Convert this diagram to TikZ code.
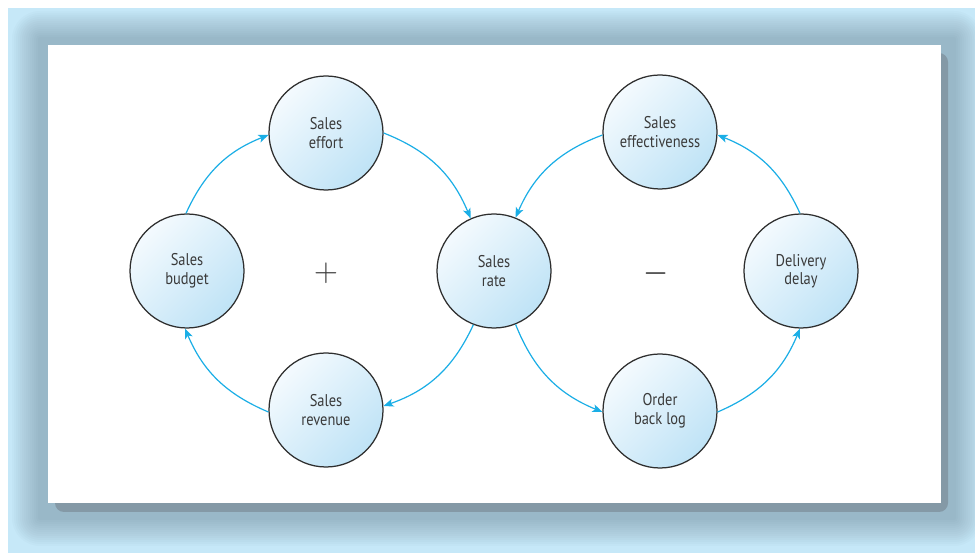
\documentclass[tikz,border=0pt]{standalone}
\usepackage{fontspec}
\usetikzlibrary{arrows.meta}
\newfontfamily\labfont[FakeStretch=0.85]{PT Sans}
\definecolor{bgblue}{HTML}{C6E8F8}
\definecolor{shadowc}{HTML}{4F6676}
\definecolor{shadowcore}{HTML}{8499A6}
\definecolor{arrowblue}{HTML}{1AAEE6}
\definecolor{circlo}{HTML}{F4FAFE}
\definecolor{circhi}{HTML}{BFE3F6}
\definecolor{rimc}{HTML}{2E2E2E}
\definecolor{textc}{HTML}{3A3A3A}
\tikzset{
  loopnode/.style={circle, draw=rimc, line width=1.25pt, minimum size=114pt, inner sep=0pt,
    top color=circlo, bottom color=circhi, shading angle=45,
    align=center, text=textc, font=\labfont\fontsize{17}{18.5}\selectfont},
  flow/.style={draw=arrowblue, line width=1.2pt, -{Stealth[length=10pt,width=8pt,inset=2.5pt]}},
  signlabel/.style={text=textc, font=\fontsize{24.88}{25}\selectfont, inner sep=0pt}
}
\begin{document}
\begin{tikzpicture}[x=1pt,y=1pt]
\useasboundingbox (0,0) rectangle (975,553);
\fill[white] (0,0) rectangle (975,553);
\fill[bgblue] (8,0) rectangle (975,545);
% soft glow of the panel shadow
\foreach \k in {0,...,13}{
  \fill[shadowc, fill opacity=0.026, rounded corners={\k*2pt+2pt}]
    ({38-2*\k},{33-2*\k}) rectangle ({956+2*\k},{516+2*\k});
}
% hard offset shadow
\fill[shadowcore, rounded corners=9pt] (55,41) rectangle (948,500);
\fill[white] (48,50) rectangle (941,508);
% nodes
\node[loopnode] (budget) at (187,282) {Sales\\budget};
\node[loopnode] (effort) at (326,420) {Sales\\effort};
\node[loopnode] (revenue) at (326,143) {Sales\\revenue};
\node[loopnode] (rate) at (494,282) {Sales\\rate};
\node[loopnode] (effect) at (660,421) {Sales\\effectiveness};
\node[loopnode] (delay) at (801,282) {Delivery\\delay};
\node[loopnode] (backlog) at (660,142) {Order\\back log};
\node[signlabel] (plus) at (326,280) {\scalebox{1.33}[1.33]{$+$}};
\node[signlabel] (minus) at (656,279) {\scalebox{1.3}[1.6]{$-$}};
% reinforcing loop
\draw[flow] (budget.91) to[bend left=22] (effort.182);
\draw[flow] (effort.0) to[bend left=23] (rate.114);
\draw[flow] (rate.249) to[bend left=23] (revenue.4);
\draw[flow] (revenue.182) to[bend left=22] (budget.268);
% balancing loop
\draw[flow] (rate.292) to[bend right=23] (backlog.181);
\draw[flow] (backlog.359) to[bend right=22] (delay.269);
\draw[flow] (delay.91) to[bend right=22] (effect.357);
\draw[flow] (effect.183) to[bend right=23] (rate.68);
\end{tikzpicture}
\end{document}
